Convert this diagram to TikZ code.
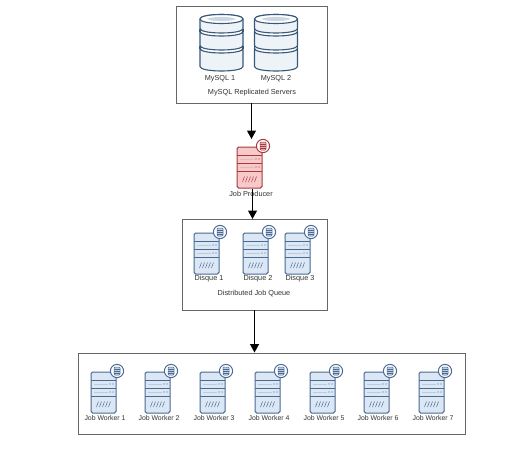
\documentclass[tikz,border=0pt]{standalone}
\usepackage{fontspec}
\setmainfont{Liberation Sans}
\usetikzlibrary{arrows.meta}
\definecolor{bluef}{HTML}{DCE7F5}
\definecolor{blued}{HTML}{4A6A92}
\definecolor{redf}{HTML}{F9C9C9}
\definecolor{redd}{HTML}{A23C40}
\definecolor{dbf}{HTML}{EEF3F8}
\definecolor{dbt}{HTML}{CBD6E4}
\definecolor{dbd}{HTML}{3A5878}
\tikzset{
  panel/.style={draw=black!60,line width=.8pt,fill=white,inner sep=0pt},
  lbl/.style={font=\fontsize{7.3}{8}\selectfont,text=black!80,inner sep=0pt,anchor=center},
  flow/.style={draw=black,line width=1.2pt,-{Triangle[length=8.5pt,width=9pt]}},
  anchorbox/.style={inner sep=0pt,minimum width=25pt,minimum height=41pt},
  pics/server/.style n args={3}{code={
    \node[anchorbox] (#1) at (12.5,20.5) {};
    \draw[draw=#3,fill=#2,line width=1pt,rounded corners=1.6pt] (0,0) rectangle (25,41);
    \draw[draw=#3,line width=.9pt] (0,8) -- (25,8) (0,16) -- (25,16) (0,24) -- (25,24);
    \foreach \yy in {12,20}{
      \draw[draw=#3!35,line width=.4pt] (3,\yy) -- (17,\yy);
      \fill[#3] (19,\yy) circle (.6pt) (22,\yy) circle (.6pt);
    }
    \foreach \xx in {0,3,6,9,12}{
      \draw[draw=#3,line width=.5pt] (5.5+\xx,35) -- (7.5+\xx,29.5);
    }
    \draw[draw=#3,fill=white,line width=1pt] (26,-1) circle (6.6pt);
    \draw[draw=#3,fill=#2!80!#3,line width=.5pt,rounded corners=1pt] (23,-5) rectangle (29,3);
    \draw[draw=#3,line width=.4pt] (23,-3) -- (29,-3) (23,-1) -- (29,-1) (23,1) -- (29,1);
  }},
  pics/dbstack/.style={code={
    \begin{scope}[line width=1.1pt,draw=dbd,line join=round]
    \draw[fill=dbf] (0,33.5) .. controls (0,39.5) and (43,39.5) .. (43,33.5)
      -- (43,51.5) .. controls (43,57.5) and (0,57.5) .. (0,51.5) -- cycle;
    \draw[fill=dbf] (0,16.5) .. controls (0,22.5) and (43,22.5) .. (43,16.5)
      -- (43,30.5) .. controls (43,36.5) and (0,36.5) .. (0,30.5) -- cycle;
    \draw[fill=dbf] (0,4) .. controls (0,-2) and (43,-2) .. (43,4)
      -- (43,13.5) .. controls (43,19.5) and (0,19.5) .. (0,13.5) -- cycle;
    \draw (0,13.5) -- (0,16.5) (43,13.5) -- (43,16.5) (0,30.5) -- (0,33.5) (43,30.5) -- (43,33.5);
    \draw[fill=white] (0,4) .. controls (0,-2) and (43,-2) .. (43,4)
      .. controls (43,10) and (0,10) .. (0,4) -- cycle;
    \end{scope}
    \fill[dbt] (7,4) .. controls (12,1.2) and (31,1.2) .. (36,4)
      .. controls (31,6.8) and (12,6.8) .. (7,4) -- cycle;
  }}
}
\begin{document}
\begin{tikzpicture}[x=1pt,y=-1pt]
\useasboundingbox (0,0) rectangle (529,450);
\fill[white] (0,0) rectangle (529,450);
\node[panel,minimum width=151pt,minimum height=97pt] (top) at (251.5,54.5) {};
\node[panel,minimum width=145pt,minimum height=91pt] (queue) at (254.5,264.5) {};
\node[panel,minimum width=387pt,minimum height=81pt] (workers) at (271.5,393.5) {};
\pic at (200,15) {dbstack};
\pic at (254.5,15) {dbstack};
\node[lbl] (l1) at (220,78.5) {MySQL 1};
\node[lbl] (l2) at (276,78.5) {MySQL 2};
\node[lbl] (l3) at (252,93) {MySQL Replicated Servers};
\pic at (237,147) {server={producer}{redf}{redd}};
\node[lbl] (lp) at (251,193.5) {Job Producer};
\pic at (194,233) {server={d1}{bluef}{blued}};
\pic at (243,233) {server={d2}{bluef}{blued}};
\pic at (285,233) {server={d3}{bluef}{blued}};
\node[lbl] (ld1) at (209,279) {Disque 1};
\node[lbl] (ld2) at (258,279) {Disque 2};
\node[lbl] (ld3) at (300,279) {Disque 3};
\node[lbl] (lq) at (254,294) {Distributed Job Queue};
\foreach \n/\x in {1/91,2/145,3/200,4/255,5/310,6/364,7/419}{
  \pic at (\x,372) {server={w\n}{bluef}{blued}};
  \node[lbl,font=\fontsize{6.9}{8}\selectfont] (lw\n) at (\x+14,418.5) {Job Worker \n};
}
\coordinate (ptop) at (251.5,139);
\coordinate (pout) at (252.5,189);
\coordinate (qin) at (252.5,219);
\coordinate (wtop) at (254.5,352.5);
\draw[flow] (top.south) -- (ptop);
\draw[flow] (pout) -- (qin);
\draw[flow] (queue.south) -- (wtop);
\end{tikzpicture}
\end{document}
